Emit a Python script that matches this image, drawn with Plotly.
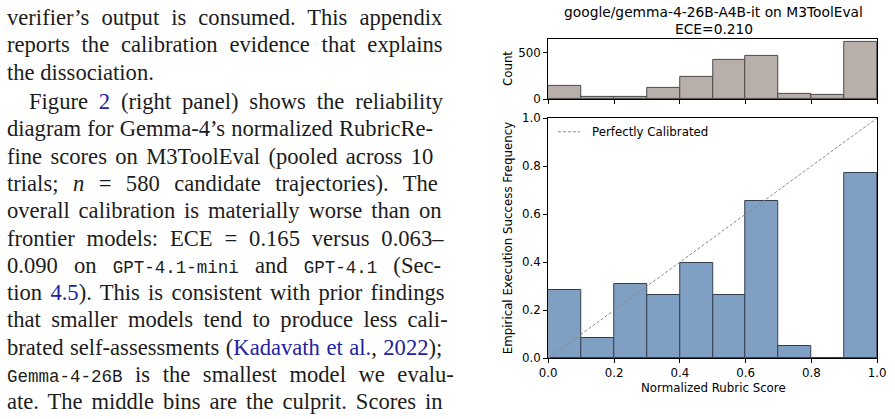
import plotly.graph_objects as go

W, H = 895, 419

# ---------------- data ----------------
bin_centers = [0.05, 0.15, 0.25, 0.35, 0.45, 0.55, 0.65, 0.75, 0.85, 0.95]
counts = [146, 21, 28, 121, 243, 427, 463, 56, 41, 615]
success_freq = [0.285, 0.085, 0.308, 0.265, 0.396, 0.262, 0.655, 0.052, 0.0, 0.770]
diag_x = [0.0, 1.0]
diag_y = [0.0, 1.0]
x_ticks = [0.0, 0.2, 0.4, 0.6, 0.8, 1.0]
y_ticks_rel = [0.0, 0.2, 0.4, 0.6, 0.8, 1.0]
y_ticks_count = [0, 500]

title_line1 = "google/gemma-4-26B-A4B-it on M3ToolEval"
title_line2 = "ECE=0.210"

BLUE = "#2323a0"
MONO = "font-family:Liberation Mono;font-size:17.5px"
def blue(s):
    return f"<span style='color:{BLUE}'>{s}</span>"
def mono(s):
    return f"<span style='{MONO}'>{s}</span>"

text_lines = [
    "verifier’s output is consumed. This appendix",
    "reports the calibration evidence that explains",
    "the dissociation.",
    "Figure " + blue("2") + " (right panel) shows the reliability",
    "diagram for Gemma-4’s normalized RubricRe-",
    "fine scores on M3ToolEval (pooled across 10",
    "trials; <i>n</i> = 580 candidate trajectories). The",
    "overall calibration is materially worse than on",
    "frontier models: ECE = 0.165 versus 0.063–",
    "0.090 on " + mono("GPT-4.1-mini") + " and " + mono("GPT-4.1") + " (Sec-",
    "tion " + blue("4.5") + "). This is consistent with prior findings",
    "that smaller models tend to produce less cali-",
    "brated self-assessments (" + blue("Kadavath et al.") + ", " + blue("2022") + ");",
    mono("Gemma-4-26B") + " is the smallest model we evalu-",
    "ate. The middle bins are the culprit. Scores in",
]
# justification word spacing per line (px)
word_spacing = [6.4, 6.2, 0, 5.2, 0.5, 2.7, 8.8, 3.2, 6.2, 10.5, 2.6, 4.6, 0.85, 6.9, 3.2]

# ---------------- layout geometry ----------------
# the page is photographed with a small offset/scale; map target pixel
# positions (as measured on the reference) into figure pixels
SX, SY, OX, OY = 0.982, 0.963, 7.9, 7.7
def fx(r):
    return (r - OX) / SX
def fy(r):
    return (r - OY) / SY
def px_x(r):
    return fx(r) / W
def px_y(r):
    return 1 - fy(r) / H

ax_l, ax_r = 548.3, 878.0
top_t, top_b = 39.5, 99.5
bot_t, bot_b = 118.3, 357.7

fig = go.Figure()

HIST_FILL = "#b9afaa"
HIST_EDGE = "#4a4a4a"
REL_FILL = "#7f9fc3"
REL_EDGE = "#34404f"

fig.add_trace(go.Bar(
    x=bin_centers, y=counts, width=0.1, xaxis="x", yaxis="y",
    marker=dict(color=HIST_FILL, line=dict(color=HIST_EDGE, width=1)),
    showlegend=False, hoverinfo="skip"))

fig.add_trace(go.Bar(
    x=bin_centers, y=success_freq, width=0.1, xaxis="x2", yaxis="y2",
    marker=dict(color=REL_FILL, line=dict(color=REL_EDGE, width=1)),
    showlegend=False, hoverinfo="skip"))

fig.add_trace(go.Scatter(
    x=diag_x, y=diag_y, mode="lines", xaxis="x2", yaxis="y2",
    line=dict(color="#888888", width=1, dash="3px,2px"),
    showlegend=False, hoverinfo="skip"))

tickfont = dict(family="DejaVu Sans", size=11.8, color="#000")
common_ax = dict(showline=True, linecolor="#000", linewidth=1, mirror=True,
                 ticks="outside", ticklen=4, tickcolor="#000", tickwidth=1,
                 showgrid=False, zeroline=False, tickfont=tickfont,
                 ticklabeloverflow="allow")

fig.update_layout(
    width=W, height=H,
    margin=dict(l=0, r=0, t=0, b=0),
    paper_bgcolor="white", plot_bgcolor="white",
    bargap=0,
    xaxis=dict(domain=[px_x(ax_l), px_x(ax_r)], range=[0, 1], anchor="y",
               tickvals=x_ticks, showticklabels=False, **common_ax),
    yaxis=dict(domain=[px_y(top_b), px_y(top_t)], range=[0, 649], anchor="x",
               tickvals=y_ticks_count, **common_ax),
    xaxis2=dict(domain=[px_x(ax_l), px_x(ax_r)], range=[0, 1], anchor="y2",
                tickvals=x_ticks, tickformat=".1f", **common_ax),
    yaxis2=dict(domain=[px_y(bot_b), px_y(bot_t)], range=[0, 1], anchor="x2",
                tickvals=y_ticks_rel, tickformat=".1f", **common_ax),
)

ann = []
lab_font = dict(family="DejaVu Sans", size=11.8, color="#000")
title_font = dict(family="DejaVu Sans", size=13.8, color="#000")
mid_x = (548.3 + 880.0) / 2
ann.append(dict(text=title_line1, x=px_x(mid_x), y=px_y(13), xref="paper", yref="paper",
                xanchor="center", yanchor="middle", showarrow=False, font=title_font))
ann.append(dict(text=title_line2, x=px_x(mid_x), y=px_y(30), xref="paper", yref="paper",
                xanchor="center", yanchor="middle", showarrow=False, font=title_font))
ann.append(dict(text="Count", x=px_x(508), y=px_y((top_t + top_b) / 2), xref="paper", yref="paper",
                xanchor="center", yanchor="middle", showarrow=False, textangle=-90, font=lab_font))
ann.append(dict(text="Empirical Execution Success Frequency", x=px_x(508), y=px_y((bot_t + bot_b) / 2),
                xref="paper", yref="paper", xanchor="center", yanchor="middle", showarrow=False,
                textangle=-90, font=lab_font))
ann.append(dict(text="Normalized Rubric Score", x=px_x(mid_x), y=px_y(387), xref="paper", yref="paper",
                xanchor="center", yanchor="middle", showarrow=False, font=lab_font))
ann.append(dict(text="Perfectly Calibrated", x=px_x(590), y=px_y(132), xref="paper", yref="paper",
                xanchor="left", yanchor="middle", showarrow=False, font=lab_font))

shapes = [dict(type="line", xref="paper", yref="paper", x0=px_x(558), x1=px_x(580),
               y0=px_y(132), y1=px_y(132), line=dict(color="#888888", width=1, dash="3px,2px"))]

# body text
for i, t in enumerate(text_lines):
    yc = 18.3 + 27.2 * i + (2 if i >= 3 else 0)
    gx = fx(29) if i == 3 else -1.0       # glyph start in figure px
    ws = word_spacing[i]
    txt = f"<span style='word-spacing:{ws}px'>{t}</span>" if ws else t
    ann.append(dict(text=txt, x=(gx - 3) / W, y=px_y(yc), xref="paper", yref="paper",
                    xanchor="left", yanchor="middle", showarrow=False, align="left",
                    font=dict(family="Liberation Serif", size=22.6, color="#1c1c1c")))

fig.update_layout(annotations=ann, shapes=shapes)
fig.write_html("out.html")
